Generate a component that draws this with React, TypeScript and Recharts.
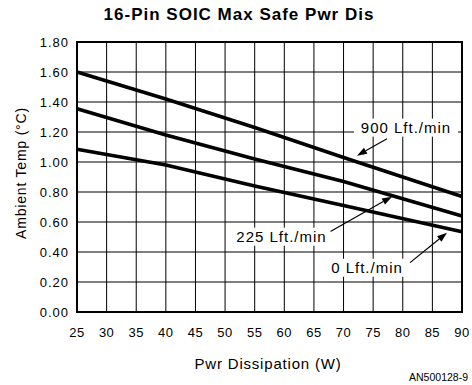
import {
  CartesianGrid,
  Line,
  LineChart,
  ReferenceArea,
  ReferenceDot,
  ReferenceLine,
  XAxis,
  YAxis,
} from "recharts";

const powerW = [25, 40, 55, 70, 90];
const temp900 = [1.6, 1.42, 1.23, 1.03, 0.77];
const temp225 = [1.355, 1.18, 1.02, 0.87, 0.64];
const temp0 = [1.085, 0.98, 0.84, 0.71, 0.535];

const xTicks = [25, 30, 35, 40, 45, 50, 55, 60, 65, 70, 75, 80, 85, 90];
const yTicks = [0, 0.2, 0.4, 0.6, 0.8, 1.0, 1.2, 1.4, 1.6, 1.8];

const data = powerW.map((p, i) => ({
  p,
  s900: temp900[i],
  s225: temp225[i],
  s0: temp0[i],
}));

// callouts: label centre + arrow tail -> head, all in data units
const callouts = [
  { text: "900 Lft./min", at: [80.55, 1.229], from: [77.34, 1.155], to: [72.27, 1.042], w: 104 },
  { text: "225 Lft./min", at: [59.53, 0.502], from: [67.71, 0.535], to: [78.18, 0.769], w: 98 },
  { text: "0 Lft./min", at: [73.96, 0.295], from: [81.22, 0.329], to: [87.47, 0.529], w: 80 },
];

const tickFont = { fontFamily: "Liberation Sans, Arial, sans-serif", fontSize: 13, fill: "#000" };

function Arrow(props: any) {
  const { x1, y1, x2, y2 } = props;
  const ang = Math.atan2(y2 - y1, x2 - x1);
  const len = 10;
  const half = 3.5;
  const bx = x2 - len * Math.cos(ang);
  const by = y2 - len * Math.sin(ang);
  const px = -Math.sin(ang) * half;
  const py = Math.cos(ang) * half;
  return (
    <g>
      <line x1={x1} y1={y1} x2={bx} y2={by} stroke="#000" strokeWidth={1.2} />
      <polygon points={`${x2},${y2} ${bx + px},${by + py} ${bx - px},${by - py}`} fill="#000" />
    </g>
  );
}

export default function App() {
  return (
    <div style={{ position: "absolute", left: 0, top: 0, width: 472, height: 385, background: "#fff", overflow: "hidden" }}>
      <div
        style={{
          position: "absolute",
          left: 0,
          width: 478,
          top: 4,
          textAlign: "center",
          fontFamily: "Liberation Sans, Arial, sans-serif",
          fontWeight: "bold",
          fontSize: 17,
          letterSpacing: 1,
          lineHeight: "22px",
        }}
      >
        16-Pin SOIC Max Safe Pwr Dis
      </div>
      <LineChart
        width={472}
        height={385}
        data={data}
        margin={{ top: 42, right: 10, bottom: 43, left: 0 }}
      >
        <CartesianGrid stroke="#000" strokeWidth={1} />
        <XAxis
          dataKey="p"
          type="number"
          domain={[25, 90]}
          ticks={xTicks}
          height={30}
          axisLine={false}
          tickLine={false}
          tickMargin={10}
          tick={{ ...tickFont, letterSpacing: 0.5 }}
          interval={0}
        />
        <YAxis
          type="number"
          domain={[0, 1.8]}
          ticks={yTicks}
          width={77}
          axisLine={false}
          tickLine={false}
          tick={{ ...tickFont, letterSpacing: 1 }}
          tickFormatter={(v: number) => v.toFixed(2)}
          interval={0}
        />
        <ReferenceArea x1={25} x2={90} y1={0} y2={1.8} fill="none" stroke="#000" strokeWidth={2} fillOpacity={0} />
        <Line dataKey="s900" stroke="#000" strokeWidth={3.5} dot={false} isAnimationActive={false} />
        <Line dataKey="s225" stroke="#000" strokeWidth={3.5} dot={false} isAnimationActive={false} />
        <Line dataKey="s0" stroke="#000" strokeWidth={3.5} dot={false} isAnimationActive={false} />
        {callouts.map((c) => (
          <ReferenceDot
            key={c.text}
            x={c.at[0]}
            y={c.at[1]}
            r={0}
            shape={(p: any) => (
              <g>
                <rect x={p.cx - c.w / 2} y={p.cy - 9} width={c.w} height={18} fill="#fff" />
                <text
                  x={p.cx}
                  y={p.cy}
                  dy="0.36em"
                  textAnchor="middle"
                  fontFamily="Liberation Sans, Arial, sans-serif"
                  fontSize={15}
                  letterSpacing={1}
                  fill="#000"
                >
                  {c.text}
                </text>
              </g>
            )}
          />
        ))}
        {callouts.map((c) => (
          <ReferenceLine
            key={c.text + "-arrow"}
            segment={[
              { x: c.from[0], y: c.from[1] },
              { x: c.to[0], y: c.to[1] },
            ]}
            shape={Arrow}
          />
        ))}
      </LineChart>
      <div
        style={{
          position: "absolute",
          left: 268,
          top: 363,
          transform: "translate(-50%, -50%)",
          whiteSpace: "nowrap",
          fontFamily: "Liberation Sans, Arial, sans-serif",
          fontSize: 15,
          letterSpacing: 0.8,
        }}
      >
        Pwr Dissipation (W)
      </div>
      <div
        style={{
          position: "absolute",
          left: 21,
          top: 173,
          transform: "translate(-50%, -50%) rotate(-90deg)",
          whiteSpace: "nowrap",
          fontFamily: "Liberation Sans, Arial, sans-serif",
          fontSize: 14,
          letterSpacing: 0.8,
        }}
      >
        Ambient Temp (°C)
      </div>
      <div
        style={{
          position: "absolute",
          right: 4,
          top: 371,
          lineHeight: "12px",
          whiteSpace: "nowrap",
          fontFamily: "Liberation Sans, Arial, sans-serif",
          fontSize: 10.5,
        }}
      >
        AN500128-9
      </div>
    </div>
  );
}
